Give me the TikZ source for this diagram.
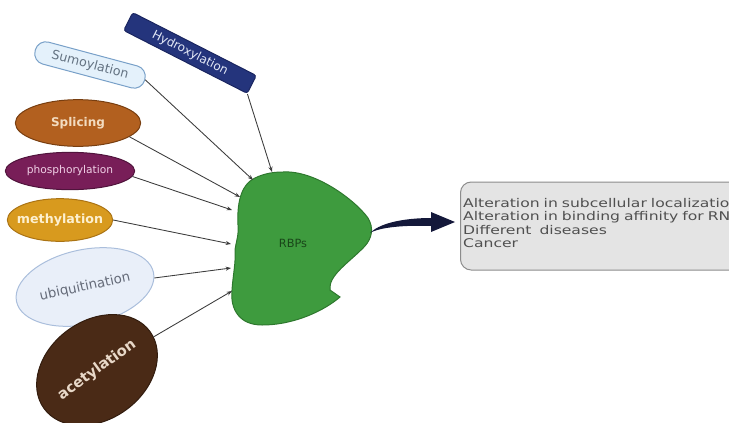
\documentclass[tikz,border=0pt]{standalone}
\usepackage{fontspec}
\setmainfont{DejaVu Sans}
\newfontfamily\efffont[FakeStretch=1.3]{DejaVu Sans}
\usetikzlibrary{shapes.geometric,arrows.meta,calc}

\definecolor{hydnavy}{RGB}{36,52,124}
\definecolor{sumofill}{RGB}{228,241,251}
\definecolor{sumoline}{RGB}{120,160,200}
\definecolor{splbrown}{RGB}{178,96,31}
\definecolor{phospurple}{RGB}{120,30,88}
\definecolor{methgold}{RGB}{216,154,30}
\definecolor{ubifill}{RGB}{233,239,249}
\definecolor{ubiline}{RGB}{170,190,220}
\definecolor{acetbrown}{RGB}{74,42,22}
\definecolor{rbpgreen}{RGB}{62,155,62}
\definecolor{arrownavy}{RGB}{20,24,58}

\tikzset{every picture/.style={line width=0.75pt}}
\tikzset{
  ptm/.style={ellipse, inner sep=0pt, font=\fontsize{8}{9}\selectfont},
  ptmline/.style={draw={rgb,255:red,60;green,60;blue,60}, line width=0.65, -{Stealth[length=4pt,width=3pt]}},
  effbox/.style={draw={rgb,255:red,140;green,140;blue,140}, fill={rgb,255:red,228;green,228;blue,228}, rounded corners=8pt, align=left, text width=260pt, minimum height=66pt, inner sep=2pt, font=\efffont\fontsize{9}{10.2}\selectfont, text={rgb,255:red,80;green,80;blue,80}},
}

\begin{document}
\begin{tikzpicture}[x=0.75pt,y=0.75pt,yscale=-1,xscale=1]
\useasboundingbox (0,0) rectangle (729,422);
\clip (0,0) rectangle (729,422);

%Shape: Blob [id:rbps]
\draw [draw={rgb,255:red,46;green,120;blue,46}, fill=rbpgreen] (283,172) .. controls (315,170) and (355,200) .. (368,218) .. controls (374,228) and (372,238) .. (365,246) .. controls (350,262) and (328,275) .. (330,290) -- (340,297) .. controls (325,310) and (295,325) .. (262,325) .. controls (240,325) and (230,310) .. (232,290) .. controls (233,275) and (236,262) .. (235,250) .. controls (236,242) and (239,235) .. (238,225) .. controls (237,205) and (240,185) .. (255,178) .. controls (265,173) and (275,172) .. (283,172) -- cycle ;

%Coordinates on the blob
\coordinate (e-hyd) at (272,172);
\coordinate (e-sumo) at (253,180);
\coordinate (e-spl) at (240,197);
\coordinate (e-phos) at (232,210);
\coordinate (e-meth) at (231,244);
\coordinate (e-ubi) at (231,268);
\coordinate (e-acet) at (232,291);
\coordinate (rbps-out) at (370,233);

% Text Node
\draw (190,53) node [draw={rgb,255:red,26;green,37;blue,96}, fill=hydnavy, rounded corners=2pt, rotate=-27, minimum width=104pt, minimum height=15pt, inner sep=0pt, font=\fontsize{9}{10}\selectfont, text={rgb,255:red,225;green,230;blue,245}] (hyd) {Hydroxylation};
% Text Node
\draw (90,65) node [draw=sumoline, fill=sumofill, rounded corners=8pt, rotate=-15, minimum width=85pt, minimum height=17pt, inner sep=0pt, font=\fontsize{9.5}{10}\selectfont, text={rgb,255:red,100;green,115;blue,130}] (sumo) {Sumoylation};
% Text Node
\draw (78,123) node [ptm, draw={rgb,255:red,120;green,62;blue,16}, fill=splbrown, minimum width=94pt, minimum height=35pt, font=\fontsize{9}{10}\selectfont\bfseries, text={rgb,255:red,243;green,220;blue,192}] (spl) {Splicing};
% Text Node
\draw (70,171) node [ptm, draw={rgb,255:red,80;green,20;blue,60}, fill=phospurple, minimum width=97pt, minimum height=28pt, text={rgb,255:red,240;green,208;blue,230}] (phos) {phosphorylation};
% Text Node
\draw (60,220) node [ptm, draw={rgb,255:red,170;green,115;blue,20}, fill=methgold, inner xsep=-5pt, minimum width=79pt, minimum height=32pt, font=\fontsize{9.5}{10}\selectfont\bfseries, text={rgb,255:red,253;green,240;blue,208}] (meth) {methylation};
% Text Node
\draw (85,287) node [ptm, draw=ubiline, fill=ubifill, rotate=12, minimum width=105pt, minimum height=56pt, font=\fontsize{10}{11}\selectfont, text={rgb,255:red,100;green,106;blue,120}] (ubi) {ubiquitination};
% Text Node
\draw (97,370) node [ptm, draw={rgb,255:red,50;green,28;blue,14}, fill=acetbrown, rotate=36, minimum width=96pt, minimum height=74pt, font=\fontsize{11}{12}\selectfont\bfseries, text={rgb,255:red,232;green,216;blue,200}] (acet) {acetylation};
% Text Node
\draw (293,243) node [font=\fontsize{8.5}{9}\selectfont, text={rgb,255:red,25;green,70;blue,25}] (rbps) {RBPs};
% Text Node
\draw (460,226) node [effbox, anchor=west] (effects) {Alteration in subcellular localization\\Alteration in binding affinity for RNA\\Different\ \ diseases\\Cancer\par\vspace{4.5pt}};

%Straight Lines
\draw [ptmline] (hyd.south east) -- (e-hyd);
\draw [ptmline] (sumo.east) -- (e-sumo);
\draw [ptmline] (spl.-15) -- (e-spl);
\draw [ptmline] (phos.-5) -- (e-phos);
\draw [ptmline] (meth.east) -- (e-meth);
\draw [ptmline] (ubi) -- (e-ubi);
\draw [ptmline] (acet) -- (e-acet);

%Shape: Big Arrow
\coordinate (tip) at ($(effects.west)+(-5,-4)$);
\fill [arrownavy] (rbps-out) .. controls +(12,-12) and +(-20,0) .. ($(tip)+(-24,-4)$) -- ($(tip)+(-24,-10)$) -- (tip) -- ($(tip)+(-24,10)$) -- ($(tip)+(-24,4)$) .. controls +(-25,-1) and +(10,-6) .. (rbps-out) -- cycle ;

\end{tikzpicture}
\end{document}
